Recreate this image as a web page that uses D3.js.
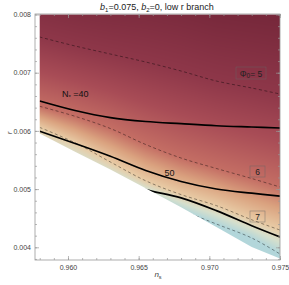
<!DOCTYPE html>
<html>
<head>
<meta charset="utf-8">
<script src="https://cdn.jsdelivr.net/npm/d3@7"></script>
<style>
  body { margin: 0; background: #fff; }
  svg { font-family: "Liberation Sans", Arial, sans-serif; }
</style>
</head>
<body>
<svg id="chart" width="289" height="285"></svg>
<script>
// n_s grid the contours were read on
var nGrid = [0.958, 0.9605, 0.963, 0.9655, 0.968, 0.9705, 0.973, 0.975];
// lower edge of the low r branch
var edgeR = [0.005955, 0.005644, 0.005335, 0.005015, 0.004689, 0.004351, 0.004007, 0.003808];
// Phi_0 contours (dashed)
var phi5 = [0.007613, 0.007459, 0.007321, 0.007184, 0.007029, 0.006857, 0.006737, 0.006634];
var phi6 = [0.006423, 0.006251, 0.006041, 0.005766, 0.005534, 0.005354, 0.005182, 0.005036];
var phi7 = [0.006060, 0.005796, 0.005466, 0.005143, 0.004906, 0.004716, 0.004473, 0.004297];
var nGridLow = [0.968, 0.9705, 0.973, 0.975];
var phi8 = [0.004641, 0.004400, 0.004160, 0.003885];
// N_* contours (solid)
var nStar40 = [0.006514, 0.006351, 0.006229, 0.006162, 0.006124, 0.006089, 0.006067, 0.006050];
var nStar50 = [0.005993, 0.005784, 0.005564, 0.005320, 0.005131, 0.005002, 0.004930, 0.004881];
var nGridN60 = [0.963, 0.9655, 0.968, 0.9705, 0.973, 0.975];
var nStar60 = [0.005180, 0.004990, 0.004850, 0.004630, 0.004370, 0.004177];

var xTicks = [0.960, 0.965, 0.970, 0.975];
var yTicks = [0.004, 0.005, 0.006, 0.007, 0.008];
var phiStops = [4.2, 5, 5.5, 6, 6.5, 7, 7.5, 8];
var colorStops = ["#77283b", "#8e3749", "#a84c56", "#c46e64", "#daa27f", "#e8cba5", "#d6dfcc", "#b2d6da"];

var svg = d3.select('#chart');
var padL = 35, padR = 280, padT = 14, padB = 260;

var x = d3.scaleLinear().domain([0.957666, 0.975]).range([padL, padR]);
var y = d3.scaleLinear().domain([0.003782, 0.0080086]).range([padB, padT]);
var color = d3.scaleLinear().domain(phiStops).range(colorStops).clamp(true);

function along(grid, vals) { return d3.scaleLinear().domain(grid).range(vals); }
var f5 = along(nGrid, phi5), f6 = along(nGrid, phi6), f7 = along(nGrid, phi7), f8 = along(nGridLow, phi8);

// colour field, drawn on a canvas and clipped to the branch
var w = padR - padL, h = padB - padT;
var canvas = document.createElement('canvas');
canvas.width = w; canvas.height = h;
var ctx = canvas.getContext('2d');
var img = ctx.createImageData(w, h);
for (var i = 0; i < w; i++) {
  var n = x.invert(padL + i + 0.5);
  var phiAt = d3.scaleLinear().domain([f8(n), f7(n), f6(n), f5(n)]).range([8, 7, 6, 5]);
  for (var j = 0; j < h; j++) {
    var r = y.invert(padT + j + 0.5);
    var c = d3.rgb(color(phiAt(r)));
    var k = (j * w + i) * 4;
    img.data[k] = c.r; img.data[k + 1] = c.g; img.data[k + 2] = c.b; img.data[k + 3] = 255;
  }
}
ctx.putImageData(img, 0, 0);

var region = [[nGrid[0], 0.008], [nGrid[nGrid.length - 1], 0.008]];
for (var m = nGrid.length - 1; m >= 0; m--) region.push([nGrid[m], edgeR[m]]);

svg.append('clipPath').attr('id', 'branch')
  .append('path')
  .attr('d', d3.line().x(d => x(d[0])).y(d => y(d[1]))(region) + 'Z');

var g = svg.append('g').attr('clip-path', 'url(#branch)');
g.append('image')
  .attr('x', padL).attr('y', padT).attr('width', w).attr('height', h)
  .attr('preserveAspectRatio', 'none')
  .attr('href', canvas.toDataURL());

var line = d3.line().x(d => x(d[0])).y(d => y(d[1])).curve(d3.curveCatmullRom);
function pts(grid, vals) { return grid.map((v, i) => [v, vals[i]]); }

[pts(nGrid, phi5), pts(nGrid, phi6), pts(nGrid, phi7), pts(nGridLow, phi8)].forEach(function(p) {
  g.append('path').attr('d', line(p))
    .attr('fill', 'none').attr('stroke', '#000').attr('stroke-opacity', 0.45)
    .attr('stroke-width', 0.9).attr('stroke-dasharray', '3,2.5');
});

[pts(nGrid, nStar40), pts(nGrid, nStar50), pts(nGridN60, nStar60)].forEach(function(p) {
  g.append('path').attr('d', line(p))
    .attr('fill', 'none').attr('stroke', '#000').attr('stroke-width', 1.7);
});

// frame and ticks
svg.append('rect').attr('x', padL).attr('y', padT).attr('width', w).attr('height', h)
  .attr('fill', 'none').attr('stroke', '#999').attr('stroke-width', 0.8);

var xMinor = d3.range(0.958, 0.97501, 0.001);
var yMinor = d3.range(0.0038, 0.00801, 0.0002);
function styleAxis(sel) {
  sel.select('.domain').remove();
  sel.selectAll('line').attr('stroke', '#999').attr('stroke-width', 0.7);
  sel.selectAll('text').attr('fill', '#444').attr('font-size', 7);
}
svg.append('g').attr('transform', 'translate(0,' + padB + ')')
  .call(d3.axisBottom(x).tickValues(xMinor).tickFormat('').tickSizeInner(-2).tickSizeOuter(0)).call(styleAxis);
svg.append('g').attr('transform', 'translate(0,' + padB + ')')
  .call(d3.axisBottom(x).tickValues(xTicks).tickFormat(d3.format('.3f')).tickSizeInner(-4).tickSizeOuter(0).tickPadding(5)).call(styleAxis);
svg.append('g').attr('transform', 'translate(0,' + padT + ')')
  .call(d3.axisTop(x).tickValues(xMinor).tickFormat('').tickSizeInner(-2).tickSizeOuter(0)).call(styleAxis);
svg.append('g').attr('transform', 'translate(0,' + padT + ')')
  .call(d3.axisTop(x).tickValues(xTicks).tickFormat('').tickSizeInner(-4).tickSizeOuter(0)).call(styleAxis);
svg.append('g').attr('transform', 'translate(' + padL + ',0)')
  .call(d3.axisLeft(y).tickValues(yMinor).tickFormat('').tickSizeInner(-2).tickSizeOuter(0)).call(styleAxis);
svg.append('g').attr('transform', 'translate(' + padL + ',0)')
  .call(d3.axisLeft(y).tickValues(yTicks).tickFormat(d3.format('.3f')).tickSizeInner(-4).tickSizeOuter(0).tickPadding(4)).call(styleAxis);
svg.append('g').attr('transform', 'translate(' + padR + ',0)')
  .call(d3.axisRight(y).tickValues(yMinor).tickFormat('').tickSizeInner(-2).tickSizeOuter(0)).call(styleAxis);
svg.append('g').attr('transform', 'translate(' + padR + ',0)')
  .call(d3.axisRight(y).tickValues(yTicks).tickFormat('').tickSizeInner(-4).tickSizeOuter(0)).call(styleAxis);

// titles
var title = svg.append('text').attr('x', 157).attr('y', 10).attr('text-anchor', 'middle')
  .attr('font-size', 9).attr('fill', '#222');
title.append('tspan').attr('font-style', 'italic').text('b');
title.append('tspan').attr('font-size', 6).attr('dy', 2).text('1');
title.append('tspan').attr('dy', -2).text('=0.075, ');
title.append('tspan').attr('font-style', 'italic').text('b');
title.append('tspan').attr('font-size', 6).attr('dy', 2).text('2');
title.append('tspan').attr('dy', -2).text('=0, low r branch');

var xl = svg.append('text').attr('x', 158).attr('y', 277).attr('text-anchor', 'middle')
  .attr('font-size', 8).attr('fill', '#444');
xl.append('tspan').attr('font-style', 'italic').text('n');
xl.append('tspan').attr('font-size', 5.5).attr('dy', 1.5).text('s');

svg.append('text').attr('transform', 'translate(12,133) rotate(-90)')
  .attr('text-anchor', 'middle').attr('font-size', 8).attr('fill', '#444')
  .attr('font-style', 'italic').text('r');

// contour labels
var lab = svg.append('text').attr('x', 62).attr('y', 97).attr('font-size', 9).attr('fill', '#111');
lab.append('tspan').text('N');
lab.append('tspan').attr('font-size', 6).attr('dy', 2).text('*');
lab.append('tspan').attr('dy', -2).text(' =40');
svg.append('text').attr('x', 169.5).attr('y', 176).attr('text-anchor', 'middle')
  .attr('font-size', 9).attr('fill', '#111').text('50');

var boxes = [
  {x: 236, y: 67, w: 30, h: 12, main: 'Φ', sub: '0', rest: '= 5'},
  {x: 250, y: 166, w: 15, h: 11, main: '6'},
  {x: 250, y: 211, w: 15, h: 11, main: '7'}
];
boxes.forEach(function(b) {
  svg.append('rect').attr('x', b.x).attr('y', b.y).attr('width', b.w).attr('height', b.h)
    .attr('fill', 'none').attr('stroke', '#666').attr('stroke-opacity', 0.7).attr('stroke-width', 0.6);
  var t = svg.append('text').attr('x', b.x + b.w / 2).attr('y', b.y + b.h - 2.5)
    .attr('text-anchor', 'middle').attr('font-size', 8.5).attr('fill', '#222');
  t.append('tspan').text(b.main);
  if (b.sub) {
    t.append('tspan').attr('font-size', 6.5).attr('dy', 1.5).text(b.sub);
    t.append('tspan').attr('dy', -1.5).text(b.rest);
  }
});
</script>
</body>
</html>
